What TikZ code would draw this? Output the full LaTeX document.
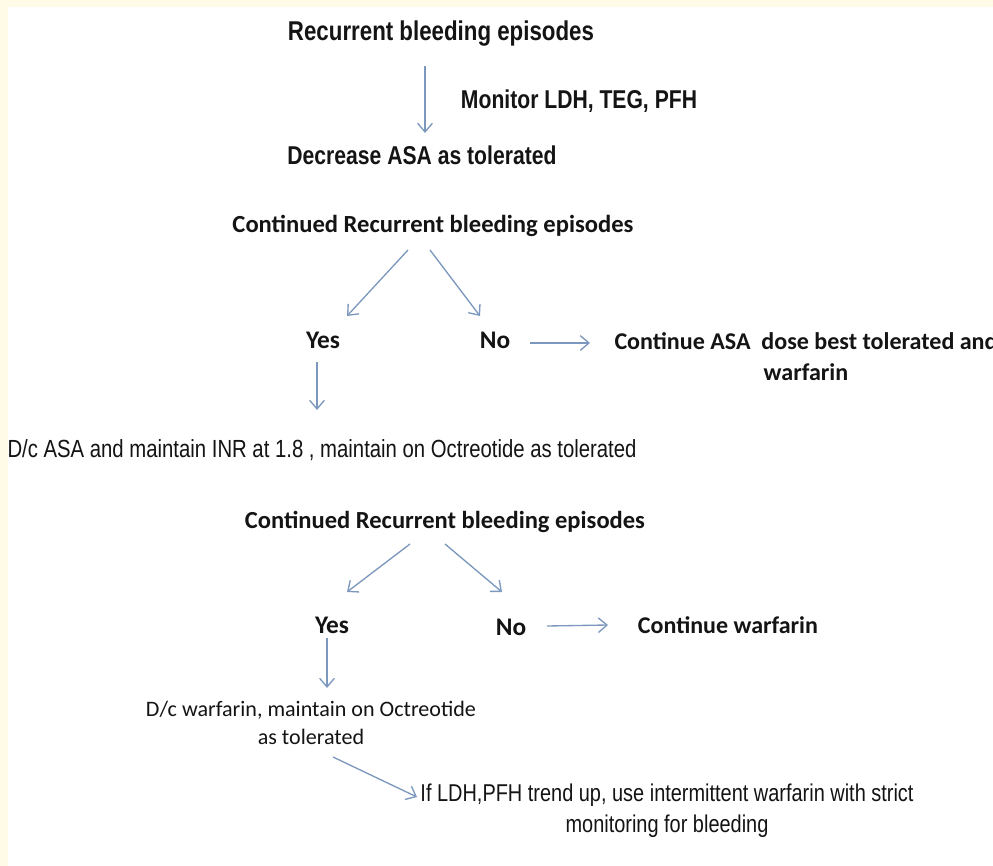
\documentclass[tikz,border=0pt]{standalone}
\usepackage{fontspec}
\setmainfont{Carlito}
\newfontfamily\narrowfont[FakeStretch=0.82]{Liberation Sans}
\usetikzlibrary{arrows.meta,calc}
\definecolor{cream}{RGB}{255,251,230}
\definecolor{arrowblue}{RGB}{125,152,190}
\definecolor{ink}{RGB}{20,20,20}
\tikzset{
  lbl/.style={inner sep=0pt, text=ink, align=center},
  narrowbold/.style={lbl, font=\narrowfont\bfseries},
  narrowreg/.style={lbl, font=\narrowfont},
  calbold/.style={lbl, font=\bfseries},
  calreg/.style={lbl, font=\normalfont},
  yesno/.style={lbl, font=\fontsize{19}{22}\selectfont\bfseries},
  arr/.style={draw=arrowblue, line width=1pt, -{Straight Barb[length=6.5pt,width=11pt]}}
}
\newcommand{\twolines}[2]{\renewcommand{\arraystretch}{1.05}\begin{tabular}{@{}c@{}}#1\\#2\end{tabular}}
\begin{document}
\begin{tikzpicture}[x=0.75pt,y=-0.75pt]
\useasboundingbox (0,0) rectangle (993,866);
\clip (0,0) rectangle (993,866);
\fill[cream] (0,0) rectangle (993,866);
\fill[white] (8,7) rectangle (993,866);

% nodes
\node[narrowbold] (rec1) at (441,34) {\resizebox{229.5pt}{!}{Recurrent bleeding episodes}};
\node[narrowbold] (mon) at (579,101) {\resizebox{177pt}{!}{Monitor LDH, TEG, PFH}};
\node[narrowbold] (dec) at (422,155) {\resizebox{201.75pt}{!}{Decrease ASA as tolerated}};
\node[calbold] (cont1) at (433,226) {\resizebox{300.75pt}{!}{Continued Recurrent bleeding episodes}};
\node[yesno] (yes1) at (323,340) {Yes};
\node[yesno] (no1) at (495,340) {No};
\node[calbold] (ca) at (806,359) {\resizebox{287.25pt}{!}{\twolines{Continue ASA\ \ dose best tolerated and}{warfarin}}};
\node[narrowreg] (dci) at (322,450) {\resizebox{471.75pt}{!}{D/c ASA and maintain INR at 1.8 , maintain on Octreotide as tolerated}};
\node[calbold] (cont2) at (445,522) {\resizebox{300pt}{!}{Continued Recurrent bleeding episodes}};
\node[yesno] (yes2) at (332,625) {Yes};
\node[yesno] (no2) at (511,627) {No};
\node[calbold] (cw) at (728,625) {\resizebox{135pt}{!}{Continue warfarin}};
\node[calreg] (dcw) at (311,725) {\resizebox{247.5pt}{!}{\twolines{D/c warfarin, maintain on Octreotide}{as tolerated}}};
\node[narrowreg] (ifl) at (667,811) {\resizebox{369.75pt}{!}{\twolines{If LDH,PFH trend up, use intermittent warfarin with strict}{monitoring for bleeding}}};

% connectors
\draw[arr] ($(rec1.center)+(-16,32)$) -- ($(dec.center)+(3,-22)$);
\draw[arr] ($(cont1.center)+(-25,24)$) -- ($(yes1.center)+(24,-24)$);
\draw[arr] ($(cont1.center)+(-3,24)$) -- ($(no1.center)+(-15,-24)$);
\draw[arr] ($(no1.center)+(35,3)$) -- ($(ca.center)+(-216,-16)$);
\draw[arr] ($(yes1.center)+(-6,22)$) -- ($(dci.center)+(-5,-40)$);
\draw[arr] ($(cont2.center)+(-35,22)$) -- ($(yes2.center)+(15,-33)$);
\draw[arr] ($(cont2.center)+(0,22)$) -- ($(no2.center)+(-9,-35)$);
\draw[arr] ($(no2.center)+(36,-1)$) -- ($(cw.center)+(-120,0)$);
\draw[arr] ($(yes2.center)+(-5,13)$) -- ($(dcw.center)+(16,-37)$);
\draw[arr] ($(dcw.center)+(22,32)$) -- ($(ifl.center)+(-250,-14)$);
\end{tikzpicture}
\end{document}
